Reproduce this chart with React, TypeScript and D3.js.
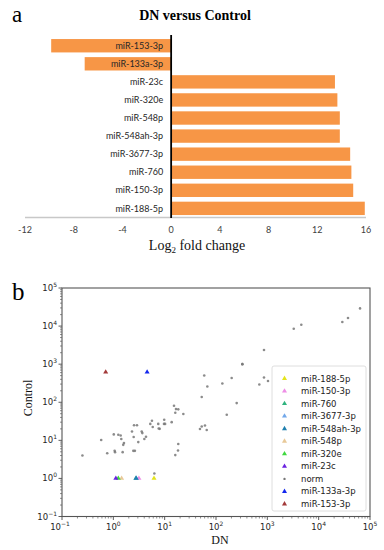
import React, { useEffect, useRef } from "react";
import * as d3 from "d3";

// panel a: log2 fold change, DN versus Control
const mirnas = ["miR-153-3p", "miR-133a-3p", "miR-23c", "miR-320e", "miR-548p", "miR-548ah-3p", "miR-3677-3p", "miR-760", "miR-150-3p", "miR-188-5p"];
const log2fc = [-9.85, -7.1, 13.45, 13.65, 13.85, 13.85, 14.7, 14.8, 14.95, 15.9];
const fcTicks = [-12, -8, -4, 0, 4, 8, 12, 16];

// panel b: normalised counts, grey "norm" points
const normDN = [0.25, 0.58, 0.76, 1.02, 1.06, 1.08, 1.25, 1.39, 1.43, 1.56, 1.61, 1.52, 2.31, 2.53, 2.89, 2.49, 2.45, 2.63, 3.06, 3.57, 3.67, 4.02, 4.33, 5.25, 5.66, 5.85, 7.5, 7.65, 8.0, 9.8, 9.7, 10.2, 13.7, 15.2, 16.6, 18.4, 16.1, 23.1, 16.1, 18.2, 18.4, 6.3, 48.7, 52.7, 61, 66, 52.7, 59, 67.8, 133, 162, 202, 253, 326, 326, 698, 861, 1030, 861, 3270, 4590, 28900, 37300, 64000];
const normControl = [4.0, 10.2, 4.6, 14.3, 5.3, 4.9, 14, 13.4, 10.8, 7.6, 8.5, 4.9, 17.1, 25, 25, 12.2, 5.3, 5.3, 9.0, 17.1, 15.5, 10.8, 12.4, 27, 32.7, 22.3, 27, 20.5, 20, 34.7, 27, 27, 30, 81, 66, 65, 53, 49, 4.1, 5.4, 8.0, 1.35, 19.8, 23, 24.5, 18.6, 137, 506, 260, 312, 47, 432, 95, 1000, 1000, 293, 448, 360, 2350, 8500, 10800, 12800, 16300, 29100];

// panel b: highlighted miRNAs (legend order, "norm" sits between them)
const legendNames = ["miR-188-5p", "miR-150-3p", "miR-760", "miR-3677-3p", "miR-548ah-3p", "miR-548p", "miR-320e", "miR-23c", "norm", "miR-133a-3p", "miR-153-3p"];
const legendColors = ["#e4e41c", "#ee8ee6", "#2fb37e", "#72a8ea", "#1f7fae", "#e8c998", "#3fd83f", "#6a22e0", "#777777", "#1428ee", "#a33a3a"];
const markedDN = [6.2, 3.15, 2.75, 2.8, 2.78, 1.45, 1.25, 1.12, 0, 4.55, 0.71];
const markedControl = [1, 1, 1, 1, 1, 1, 1, 1, 0, 620, 620];
const logTicks = [-1, 0, 1, 2, 3, 4, 5];

const App = () => {
  const svgRef = useRef<SVGSVGElement>(null);

  useEffect(() => {
    const svg = d3.select(svgRef.current);
    svg.selectAll("*").remove();

    const serif = "'Liberation Serif', 'DejaVu Serif', serif";
    const sans = "Lato, 'Open Sans', sans-serif";
    const dejavu = "'DejaVu Sans', sans-serif";

    // ---------- panel a ----------
    const a = svg.append("g");
    const x = d3.scaleLinear().domain([-12, 16]).range([25, 366]);
    const y = d3.scaleBand().domain(mirnas).range([36.7, 217.4]).paddingInner(0.26).paddingOuter(0.13);

    a.append("text").attr("x", 12).attr("y", 22).attr("font-family", serif).attr("font-size", 23).text("a");
    a.append("text").attr("x", 195).attr("y", 20).attr("text-anchor", "middle")
      .attr("font-family", serif).attr("font-weight", "bold").attr("font-size", 14).text("DN versus Control");

    a.selectAll("rect.bar")
      .data(mirnas)
      .join("rect")
      .attr("class", "bar")
      .attr("x", (d, i) => x(Math.min(0, log2fc[i])))
      .attr("y", (d) => y(d)!)
      .attr("width", (d, i) => Math.abs(x(log2fc[i]) - x(0)))
      .attr("height", y.bandwidth())
      .attr("fill", "#F79646");

    a.selectAll("text.lbl")
      .data(mirnas)
      .join("text")
      .attr("class", "lbl")
      .attr("x", x(0) - 8)
      .attr("y", (d) => y(d)! + y.bandwidth() / 2 + 3.2)
      .attr("text-anchor", "end")
      .attr("font-family", sans)
      .attr("font-size", 9)
      .attr("fill", "#262626")
      .text((d) => d);

    a.append("line").attr("x1", x(-12)).attr("x2", x(16)).attr("y1", 217.5).attr("y2", 217.5)
      .attr("stroke", "#c8c8c8").attr("stroke-width", 1.3);
    a.append("line").attr("x1", x(0)).attr("x2", x(0)).attr("y1", 35).attr("y2", 218)
      .attr("stroke", "#000").attr("stroke-width", 1.8);

    a.selectAll("text.tick")
      .data(fcTicks)
      .join("text")
      .attr("class", "tick")
      .attr("x", (d) => x(d))
      .attr("y", 233)
      .attr("text-anchor", "middle")
      .attr("font-family", sans)
      .attr("font-size", 9)
      .attr("fill", "#404040")
      .text((d) => d);

    const xt = a.append("text").attr("x", 197).attr("y", 250).attr("text-anchor", "middle")
      .attr("font-family", serif).attr("font-size", 14).attr("fill", "#111");
    xt.append("tspan").text("Log");
    xt.append("tspan").attr("font-size", 9).attr("dy", 3).text("2");
    xt.append("tspan").attr("dy", -3).text(" fold change");

    // ---------- panel b ----------
    const b = svg.append("g");
    const bx = d3.scaleLog().domain([0.1, 1e5]).range([62, 370]);
    const by = d3.scaleLog().domain([0.1, 1e5]).range([516.5, 288]);

    b.append("text").attr("x", 12).attr("y", 300).attr("font-family", serif).attr("font-size", 25).text("b");

    // minor + major ticks
    const minor: number[] = [];
    for (let e = -1; e < 5; e++) for (let m = 2; m < 10; m++) minor.push(m * Math.pow(10, e));
    const majors = logTicks.map((e) => Math.pow(10, e));

    b.selectAll("line.xmin").data(minor).join("line").attr("class", "xmin")
      .attr("x1", (d) => bx(d)).attr("x2", (d) => bx(d)).attr("y1", 516.5).attr("y2", 518.5)
      .attr("stroke", "#444").attr("stroke-width", 0.6);
    b.selectAll("line.ymin").data(minor).join("line").attr("class", "ymin")
      .attr("y1", (d) => by(d)).attr("y2", (d) => by(d)).attr("x1", 60).attr("x2", 62)
      .attr("stroke", "#444").attr("stroke-width", 0.6);
    b.selectAll("line.xmaj").data(majors).join("line").attr("class", "xmaj")
      .attr("x1", (d) => bx(d)).attr("x2", (d) => bx(d)).attr("y1", 516.5).attr("y2", 520)
      .attr("stroke", "#333").attr("stroke-width", 0.8);
    b.selectAll("line.ymaj").data(majors).join("line").attr("class", "ymaj")
      .attr("y1", (d) => by(d)).attr("y2", (d) => by(d)).attr("x1", 58.5).attr("x2", 62)
      .attr("stroke", "#333").attr("stroke-width", 0.8);

    const sup = (sel: any, e: number) => {
      sel.append("tspan").text("10");
      sel.append("tspan").attr("font-size", 6).attr("dy", -4).text(e < 0 ? "\u2212" + Math.abs(e) : String(e));
    };
    logTicks.forEach((e) => {
      const tx = b.append("text").attr("x", bx(Math.pow(10, e)) - (e < 0 ? 2 : 0)).attr("y", 530)
        .attr("text-anchor", "middle").attr("font-family", dejavu).attr("font-size", 8.5).attr("fill", "#262626");
      sup(tx, e);
      const ty = b.append("text").attr("x", 57).attr("y", by(Math.pow(10, e)) + 3)
        .attr("text-anchor", "end").attr("font-family", dejavu).attr("font-size", 8.5).attr("fill", "#262626");
      sup(ty, e);
    });

    b.append("rect").attr("x", 62).attr("y", 288).attr("width", 308).attr("height", 228.5)
      .attr("fill", "none").attr("stroke", "#555").attr("stroke-width", 1.1);

    b.append("text").attr("x", 220).attr("y", 544).attr("text-anchor", "middle")
      .attr("font-family", serif).attr("font-size", 12).attr("fill", "#111").text("DN");
    b.append("text").attr("transform", "translate(32,398) rotate(-90)").attr("text-anchor", "middle")
      .attr("font-family", serif).attr("font-size", 12).attr("fill", "#111").text("Control");

    const tri = d3.symbol().type(d3.symbolTriangle).size(11);

    // highlighted miRNAs drawn in legend order, norm in between
    legendNames.forEach((name, i) => {
      if (name === "norm") {
        b.selectAll("circle.norm").data(normDN).join("circle").attr("class", "norm")
          .attr("cx", (d) => bx(d)).attr("cy", (d, j) => by(normControl[j]))
          .attr("r", 1.3).attr("fill", legendColors[i]).attr("fill-opacity", 0.85);
      } else {
        b.append("path").attr("d", tri()!)
          .attr("transform", `translate(${bx(markedDN[i])},${by(markedControl[i])})`)
          .attr("fill", legendColors[i]);
      }
    });

    // legend
    const lg = b.append("g");
    lg.append("rect").attr("x", 272).attr("y", 366).attr("width", 94).attr("height", 145).attr("rx", 2)
      .attr("fill", "#fff").attr("fill-opacity", 0.85).attr("stroke", "#d6d6d6").attr("stroke-width", 0.8);
    legendNames.forEach((name, i) => {
      const ly = 378.5 + i * 12.55;
      if (name === "norm") {
        lg.append("circle").attr("cx", 284.5).attr("cy", ly).attr("r", 1.2).attr("fill", legendColors[i]);
      } else {
        lg.append("path").attr("d", tri()!).attr("transform", `translate(284.5,${ly})`).attr("fill", legendColors[i]);
      }
      lg.append("text").attr("x", 301).attr("y", ly + 3).attr("font-family", dejavu).attr("font-size", 8.5)
        .attr("fill", "#222").text(name);
    });
  }, []);

  return <svg ref={svgRef} width={384} height={550} style={{ position: "absolute", left: 0, top: 0, background: "#fff" }}></svg>;
};

export default App;
